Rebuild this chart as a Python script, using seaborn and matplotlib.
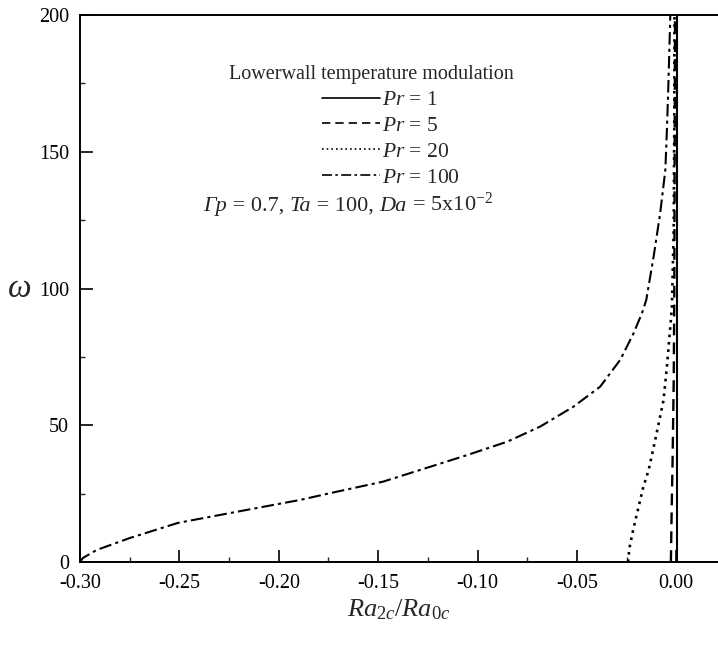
import numpy as np
import pandas as pd
import matplotlib
matplotlib.use("Agg")
import matplotlib.pyplot as plt
import seaborn as sns
from matplotlib.ticker import MultipleLocator, FormatStrFormatter
from matplotlib.lines import Line2D
from matplotlib.offsetbox import TextArea, HPacker, AnchoredOffsetbox

# Courbes : Ra2c/Ra0c (x) en fonction de omega (w)
pr1_x = [0.0002, 0.0002, 0.0002]
pr1_w = [0, 100, 200]

pr5_x = [-0.0027, -0.0024, -0.0019, -0.0013, -0.0010, -0.0008, -0.0006]
pr5_w = [0, 15, 35, 65, 96, 150, 200]

pr20_x = [-0.0242, -0.0240, -0.0236, -0.0217, -0.0166, -0.0139, -0.0106, -0.0064,
          -0.0047, -0.0030, -0.0022, -0.0013, -0.0010, -0.0009]
pr20_w = [0, 2, 5, 11.7, 27.4, 33.6, 44.6, 59.2,
          71.4, 86, 93, 121, 158, 200]

pr100_x = [-0.3000, -0.2985, -0.2916, -0.2748, -0.2507, -0.2245, -0.2003, -0.1892,
           -0.1740, -0.1474, -0.1052, -0.0850, -0.0685, -0.0517, -0.0383, -0.0282,
           -0.0215, -0.0173, -0.0151, -0.0114, -0.0081, -0.0055, -0.0047, -0.0039,
           -0.0030]
pr100_w = [0, 1.5, 4.4, 8.8, 14.3, 17.9, 21.2, 22.7,
           25.2, 29.4, 39.1, 44.0, 49.5, 56.8, 64.1, 73.9,
           83.6, 90.9, 95.8, 111.6, 127.5, 143.3, 158, 176,
           200]

labels = ["$Pr$ = 1", "$Pr$ = 5", "$Pr$ = 20", "$Pr$ = 100"]
styles = ["-", (0, (5, 3)), (0, (1.0, 1.8)), (0, (6, 2, 1.5, 2))]
widths = [1.5, 1.7, 1.9, 1.5]

sns.set_style("ticks")
plt.rcParams["font.family"] = ["Liberation Serif", "DejaVu Serif"]
plt.rcParams["mathtext.fontset"] = "custom"
plt.rcParams["mathtext.rm"] = "Liberation Serif"
plt.rcParams["mathtext.it"] = "Liberation Serif:italic"

fig = plt.figure(figsize=(7.18, 6.45), dpi=100)
ax = fig.add_axes([80 / 718, 1 - 562 / 645, 638 / 718, 547 / 645])

series = [(pr1_x, pr1_w), (pr5_x, pr5_w), (pr20_x, pr20_w), (pr100_x, pr100_w)]
handles = []
for (xs, ws), lab, ls, lw in zip(series, labels, styles, widths):
    df = pd.DataFrame({"x": xs, "w": ws})
    sns.lineplot(data=df, x="x", y="w", sort=False, estimator=None, ax=ax,
                 color="black", linestyle=ls, linewidth=lw)
    handles.append(Line2D([], [], color="black", linestyle=ls, linewidth=1.2, label=lab))

ax.set_xlim(-0.30, 0.021)
ax.set_ylim(0, 200)
ax.xaxis.set_major_locator(MultipleLocator(0.05))
ax.xaxis.set_minor_locator(MultipleLocator(0.025))
ax.yaxis.set_major_locator(MultipleLocator(50))
ax.yaxis.set_minor_locator(MultipleLocator(25))
ax.xaxis.set_major_formatter(FormatStrFormatter("%.2f"))
ax.tick_params(which="major", direction="in", length=9, width=1.2, labelsize=14.5, colors="black")
ax.tick_params(which="minor", direction="in", length=3.5, width=1)
ax.tick_params(axis="x", pad=9)
ax.tick_params(axis="y", pad=8)

for s in ["left", "bottom", "top"]:
    ax.spines[s].set_linewidth(1.4)
    ax.spines[s].set_color("black")
ax.spines["right"].set_visible(False)

ax.set_xlabel("$Ra_{2c}/Ra_{0c}$", fontsize=19, labelpad=3)
ax.set_ylabel(r"$\omega$", fontsize=24, rotation=0, labelpad=14, va="center")

fig.text(371 / 718, 1 - 75 / 645, "Lowerwall temperature modulation",
         fontsize=14.5, ha="center", va="center")
fig.legend(handles=handles, loc="upper left", bbox_to_anchor=(322 / 718, 1 - 90 / 645),
           frameon=False, fontsize=15.5, handlelength=2.7, handletextpad=0.1,
           labelspacing=0.27, borderpad=0, borderaxespad=0)

# ligne des parametres, Gamma en italique
it = dict(family="Liberation Serif", style="italic", size=16)
rm = dict(family="Liberation Serif", size=16)
pieces = [("Γp", it), (" = 0.7, ", rm), ("Ta", it), (" = 100, ", rm), ("Da", it),
          (" = 5x10$^{-2}$", rm)]
box = HPacker(children=[TextArea(t, textprops=p) for t, p in pieces], pad=0, sep=0,
              align="baseline")
anch = AnchoredOffsetbox(loc="center left", child=box, pad=0, borderpad=0, frameon=False,
                         bbox_to_anchor=(203 / 718, 1 - 204 / 645),
                         bbox_transform=fig.transFigure)
fig.add_artist(anch)

fig.savefig("out.png", dpi=100)
